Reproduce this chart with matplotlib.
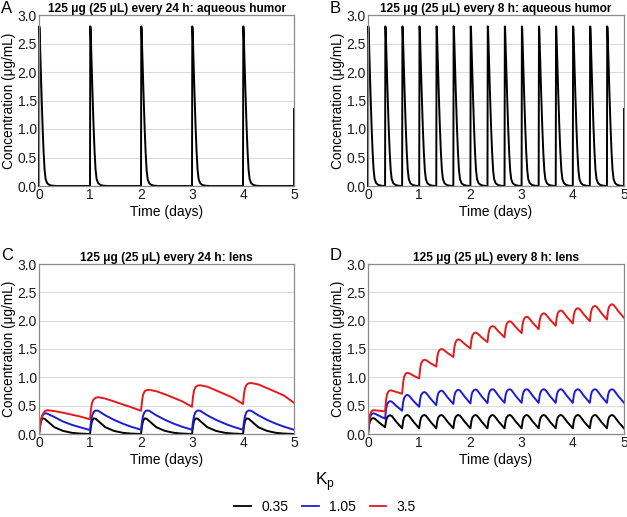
import numpy as np
import matplotlib
matplotlib.use('Agg')
import matplotlib.pyplot as plt
from matplotlib.lines import Line2D

plt.rcParams['font.family'] = ['Liberation Sans', 'DejaVu Sans']

# ---------------- data ----------------
kp_labels = ['0.35', '1.05', '3.5']
kp_colors = ['black', '#1c1cd6', '#e41a1c']

titles = ['125 \u03bcg (25 \u03bcL) every 24 h: aqueous humor',
          '125 \u03bcg (25 \u03bcL) every 8 h: aqueous humor',
          '125 \u03bcg (25 \u03bcL) every 24 h: lens',
          '125 \u03bcg (25 \u03bcL) every 8 h: lens']
panel_letters = ['A', 'B', 'C', 'D']
x_ticks = [0, 1, 2, 3, 4, 5]
y_ticks = [0.0, 0.5, 1.0, 1.5, 2.0, 2.5, 3.0]

# aqueous humor: concentration profile after each dose (days after dose, ug/mL)
ah_offset = [0, 0.006, 0.012, 0.03, 0.05, 0.07, 0.09, 0.11, 0.13, 0.16, 0.2, 0.26, 0.35]
ah_conc = [0, 2.8, 2.75, 2.2, 1.6, 1.05, 0.6, 0.28, 0.12, 0.05, 0.02, 0.005, 0]
ah_end_conc = 1.35
ah_interval_a = 1.0
ah_interval_b = 1.0 / 3.0
ah_doses_a = 5
ah_doses_b = 15

# lens, every 24 h: values at these offsets within each daily cycle
c_offset = [0, 0.02, 0.04, 0.07, 0.11, 0.16, 0.3, 0.47, 0.65, 0.8]
c_black = [
    [0, 0.14, 0.23, 0.275, 0.27, 0.23, 0.12, 0.055, 0.02, 0.008],
    [0, 0.14, 0.23, 0.275, 0.27, 0.23, 0.12, 0.055, 0.02, 0.008],
    [0, 0.14, 0.23, 0.275, 0.27, 0.23, 0.12, 0.055, 0.02, 0.008],
    [0, 0.14, 0.23, 0.275, 0.27, 0.23, 0.12, 0.055, 0.02, 0.008],
    [0, 0.14, 0.23, 0.275, 0.27, 0.23, 0.12, 0.055, 0.02, 0.008],
]
c_black_end = 0.0
c_blue = [
    [0, 0.15, 0.26, 0.33, 0.365, 0.36, 0.30, 0.22, 0.16, 0.12],
    [0.07, 0.22, 0.32, 0.39, 0.415, 0.41, 0.33, 0.25, 0.18, 0.13],
    [0.075, 0.22, 0.32, 0.39, 0.415, 0.41, 0.33, 0.25, 0.18, 0.13],
    [0.075, 0.22, 0.32, 0.39, 0.415, 0.41, 0.33, 0.25, 0.18, 0.13],
    [0.075, 0.22, 0.32, 0.39, 0.415, 0.41, 0.33, 0.25, 0.18, 0.13],
]
c_blue_end = 0.075
c_red = [
    [0, 0.13, 0.24, 0.34, 0.40, 0.42, 0.405, 0.375, 0.34, 0.31],
    [0.26, 0.45, 0.55, 0.61, 0.64, 0.65, 0.625, 0.575, 0.52, 0.475],
    [0.41, 0.58, 0.69, 0.75, 0.775, 0.78, 0.755, 0.70, 0.635, 0.58],
    [0.48, 0.66, 0.77, 0.83, 0.855, 0.86, 0.835, 0.77, 0.70, 0.64],
    [0.53, 0.71, 0.81, 0.87, 0.895, 0.90, 0.875, 0.81, 0.74, 0.68],
]
c_red_end = 0.55

# lens, every 8 h: peaks and pre-dose troughs per cycle, plus cycle shape
d_interval = 1.0 / 3.0
d_rise_offset = [0, 0.02, 0.04, 0.07, 0.1]
d_rise_frac = [0, 0.55, 0.82, 0.96, 1.0]
d_decay_offset = [0.13, 0.17, 0.22, 0.28]
d_decay_frac = [0.95, 0.76, 0.5, 0.23]
d_black_peak = [0.28, 0.33, 0.335, 0.335, 0.335, 0.335, 0.335, 0.335, 0.335, 0.335, 0.335, 0.335, 0.335, 0.335, 0.335]
d_black_trough = [0, 0.12, 0.10, 0.10, 0.10, 0.10, 0.10, 0.10, 0.10, 0.10, 0.10, 0.10, 0.10, 0.10, 0.10]
d_black_end = 0.10
d_blue_peak = [0.365, 0.58, 0.69, 0.74, 0.765, 0.78, 0.785, 0.79, 0.79, 0.79, 0.79, 0.79, 0.79, 0.79, 0.79]
d_blue_trough = [0, 0.27, 0.41, 0.48, 0.51, 0.53, 0.54, 0.545, 0.55, 0.55, 0.55, 0.55, 0.55, 0.55, 0.55]
d_blue_end = 0.55
d_red_peak = [0.42, 0.77, 1.08, 1.31, 1.50, 1.67, 1.79, 1.905, 1.99, 2.07, 2.13, 2.18, 2.22, 2.26, 2.29]
d_red_trough = [0, 0.40, 0.71, 0.98, 1.19, 1.36, 1.51, 1.62, 1.705, 1.78, 1.85, 1.91, 1.95, 1.99, 2.02]
d_red_end = 2.05


# ---------------- series assembly ----------------
def ah_series(interval, n_doses):
    t, c = [], []
    for k in range(n_doses):
        t0 = k * interval
        for o, v in zip(ah_offset, ah_conc):
            if o < interval - 1e-9:
                t.append(t0 + o)
                c.append(v)
    t += [5.0, 5.0]
    c += [0.0, ah_end_conc]
    return t, c


def c_series(cycles, end):
    t, c = [], []
    for k, cyc in enumerate(cycles):
        t += [k + o for o in c_offset]
        c += list(cyc)
    t.append(5.0)
    c.append(end)
    return t, c


def d_series(peaks, troughs, end):
    t, c = [], []
    n = len(peaks)
    for k in range(n):
        t0 = k * d_interval
        nxt = troughs[k + 1] if k + 1 < n else end
        for o, f in zip(d_rise_offset, d_rise_frac):
            t.append(t0 + o)
            c.append(troughs[k] + (peaks[k] - troughs[k]) * f)
        for o, f in zip(d_decay_offset, d_decay_frac):
            t.append(t0 + o)
            c.append(nxt + (peaks[k] - nxt) * f)
    t.append(5.0)
    c.append(end)
    return t, c


# ---------------- figure ----------------
fig = plt.figure(figsize=(6.27, 5.17), dpi=100)
W, H = 627.0, 517.0
boxes = [(39, 15, 294, 186), (368, 15, 624, 186),
         (39, 264, 294, 434), (368, 264, 624, 434)]
axes = []
for (l, tp, r, b) in boxes:
    ax = fig.add_axes([l / W, 1 - b / H, (r - l) / W, (b - tp) / H])
    axes.append(ax)

for i, ax in enumerate(axes):
    ax.set_xlim(0, 5)
    ax.set_ylim(0, 3.0)
    ax.set_xticks(x_ticks)
    ax.set_yticks(y_ticks)
    ax.set_yticklabels([f'{v:.1f}' for v in y_ticks])
    ax.tick_params(length=0, labelsize=10, pad=1.5, colors='#1a1a1a')
    ax.grid(axis='y', color='#dcdcdc', lw=0.8)
    ax.set_axisbelow(True)
    for s in ax.spines.values():
        s.set_color('#8a8a8a')
        s.set_linewidth(0.9)
    ax.set_title(titles[i], fontsize=8.6, fontweight='bold', pad=2.5)
    ax.set_xlabel('Time (days)', fontsize=10, labelpad=2)
    ax.set_ylabel('Concentration (\u03bcg/mL)', fontsize=9.8, labelpad=1)

# A, B
t, c = ah_series(ah_interval_a, ah_doses_a)
axes[0].plot(t, c, color='black', lw=1.4, clip_on=False)
t, c = ah_series(ah_interval_b, ah_doses_b)
axes[1].plot(t, c, color='black', lw=1.4, clip_on=False)

# C
for cyc, end, col in zip([c_black, c_blue, c_red],
                         [c_black_end, c_blue_end, c_red_end], kp_colors):
    t, c = c_series(cyc, end)
    axes[2].plot(t, c, color=col, lw=1.4)

# D
for pk, tr, end, col in zip([d_black_peak, d_blue_peak, d_red_peak],
                            [d_black_trough, d_blue_trough, d_red_trough],
                            [d_black_end, d_blue_end, d_red_end], kp_colors):
    t, c = d_series(pk, tr, end)
    axes[3].plot(t, c, color=col, lw=1.4)

# panel letters
fig.text(1 / W, 1 - 1 / H, 'A', fontsize=12, va='top', ha='left')
fig.text(330 / W, 1 - 1 / H, 'B', fontsize=12, va='top', ha='left')
fig.text(1 / W, 1 - 248 / H, 'C', fontsize=12, va='top', ha='left')
fig.text(330 / W, 1 - 248 / H, 'D', fontsize=12, va='top', ha='left')

# legend
handles = [Line2D([0], [0], color=col, lw=1.3) for col in kp_colors]
leg = fig.legend(handles, kp_labels, loc='lower center', ncol=3,
                 bbox_to_anchor=(325 / W, -0.013), frameon=False,
                 title='K$_\\mathregular{p}$', title_fontsize=12.5,
                 fontsize=10, handlelength=1.2, columnspacing=1.0,
                 handletextpad=0.75, borderaxespad=0.3)
leg._legend_box.sep = 5

fig.savefig('out.png', dpi=100)
